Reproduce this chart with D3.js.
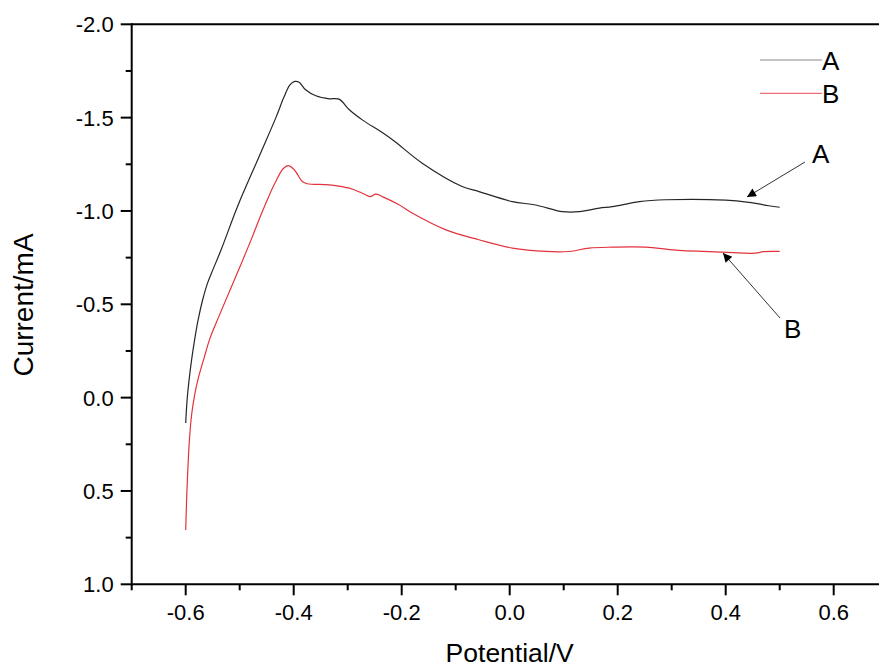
<!DOCTYPE html>
<html><head><meta charset="utf-8">
<script src="https://cdn.jsdelivr.net/npm/d3@7"></script>
<style>html,body{margin:0;padding:0;background:#fff;}svg{display:block;}</style>
</head><body>
<svg id="chart" width="879" height="668"></svg>
<script>
// Series A (black)
const potentialA = [-0.600,-0.5974,-0.5937,-0.5891,-0.5835,-0.5770,-0.5687,-0.5594,-0.5494,-0.5344,-0.504,-0.464,-0.433,-0.418,-0.407,-0.398,-0.390,-0.378,-0.359,-0.334,-0.316,-0.297,-0.273,-0.236,-0.214,-0.162,-0.088,-0.057,0.005,0.048,0.098,0.129,0.166,0.190,0.240,0.289,0.400,0.443,0.480,0.500];
const currentA   = [0.136,0.012,-0.095,-0.202,-0.309,-0.416,-0.523,-0.615,-0.687,-0.792,-1.024,-1.292,-1.500,-1.610,-1.675,-1.694,-1.690,-1.649,-1.617,-1.601,-1.599,-1.542,-1.488,-1.420,-1.375,-1.256,-1.131,-1.104,-1.050,-1.032,-0.996,-0.996,-1.015,-1.023,-1.050,-1.060,-1.058,-1.046,-1.028,-1.020];
// Series B (red)
const potentialB = [-0.600,-0.5983,-0.5961,-0.5931,-0.5891,-0.5835,-0.5761,-0.5659,-0.5548,-0.5381,-0.5178,-0.4974,-0.4789,-0.4622,-0.4474,-0.4335,-0.4196,-0.410,-0.399,-0.384,-0.375,-0.334,-0.297,-0.273,-0.258,-0.248,-0.236,-0.205,-0.180,-0.118,-0.057,0.005,0.067,0.110,0.147,0.190,0.252,0.308,0.394,0.455,0.470,0.500];
const currentB   = [0.709,0.548,0.387,0.227,0.093,-0.014,-0.111,-0.213,-0.320,-0.438,-0.577,-0.716,-0.845,-0.968,-1.070,-1.156,-1.226,-1.243,-1.221,-1.158,-1.146,-1.140,-1.122,-1.095,-1.077,-1.090,-1.077,-1.033,-0.988,-0.899,-0.846,-0.801,-0.783,-0.783,-0.801,-0.806,-0.806,-0.790,-0.779,-0.774,-0.782,-0.783];

const xMajor = [-0.6,-0.4,-0.2,0.0,0.2,0.4,0.6];
const xMinor = [-0.7,-0.5,-0.3,-0.1,0.1,0.3,0.5];
const yMajor = [-2.0,-1.5,-1.0,-0.5,0.0,0.5,1.0];
const yMinor = [-1.75,-1.25,-0.75,-0.25,0.25,0.75];
const seriesNames = ["A","B"];
const seriesColors = ["#262626","#e3323c"];

const svg = d3.select("#chart");
const font = "Arial, 'Liberation Sans', sans-serif";
const x = d3.scaleLinear().domain([-0.7,0.7]).range([131.7,887.7]);
const y = d3.scaleLinear().domain([-2,1]).range([24.3,584.3]);

// axes
const g = svg.append("g");
g.append("line").attr("x1",x(-0.7)).attr("x2",879).attr("y1",y(-2)).attr("y2",y(-2)).attr("stroke","#000").attr("stroke-width",2);
g.append("line").attr("x1",x(-0.7)).attr("x2",879).attr("y1",y(1)).attr("y2",y(1)).attr("stroke","#000").attr("stroke-width",2);
g.append("line").attr("x1",x(-0.7)).attr("x2",x(-0.7)).attr("y1",y(-2)-1).attr("y2",y(1)+1).attr("stroke","#000").attr("stroke-width",2);

// x ticks
g.selectAll(".xM").data(xMajor).enter().append("line")
  .attr("x1",d=>x(d)).attr("x2",d=>x(d)).attr("y1",y(1)).attr("y2",y(1)+11).attr("stroke","#000").attr("stroke-width",2);
g.selectAll(".xm").data(xMinor).enter().append("line")
  .attr("x1",d=>x(d)).attr("x2",d=>x(d)).attr("y1",y(1)).attr("y2",y(1)+6).attr("stroke","#000").attr("stroke-width",2);
g.selectAll(".xl").data(xMajor).enter().append("text")
  .attr("x",d=>x(d)).attr("y",y(1)+36).attr("text-anchor","middle")
  .attr("font-family",font).attr("font-size",22).text(d=>d.toFixed(1));
// y ticks
g.selectAll(".yM").data(yMajor).enter().append("line")
  .attr("x1",x(-0.7)-11).attr("x2",x(-0.7)).attr("y1",d=>y(d)).attr("y2",d=>y(d)).attr("stroke","#000").attr("stroke-width",2);
g.selectAll(".ym").data(yMinor).enter().append("line")
  .attr("x1",x(-0.7)-6).attr("x2",x(-0.7)).attr("y1",d=>y(d)).attr("y2",d=>y(d)).attr("stroke","#000").attr("stroke-width",2);
g.selectAll(".yl").data(yMajor).enter().append("text")
  .attr("x",x(-0.7)-18).attr("y",d=>y(d)+8).attr("text-anchor","end")
  .attr("font-family",font).attr("font-size",22).text(d=>d.toFixed(1));

// axis titles
svg.append("text").attr("x",x(0)).attr("y",662).attr("text-anchor","middle")
  .attr("font-family",font).attr("font-size",26.5).text("Potential/V");
svg.append("text").attr("transform","translate(33,305) rotate(-90)").attr("text-anchor","middle")
  .attr("font-family",font).attr("font-size",28).text("Current/mA");

// curves
const line = d3.line().x(d=>x(d[0])).y(d=>y(d[1])).curve(d3.curveCatmullRom.alpha(0.5));
const dataA = potentialA.map((p,i)=>[p,currentA[i]]);
const dataB = potentialB.map((p,i)=>[p,currentB[i]]);
svg.append("path").datum(dataA).attr("d",line).attr("fill","none").attr("stroke",seriesColors[0]).attr("stroke-width",1.2);
svg.append("path").datum(dataB).attr("d",line).attr("fill","none").attr("stroke",seriesColors[1]).attr("stroke-width",1.2);

// legend
const legY = [60,93.3];
const leg = svg.append("g");
seriesNames.forEach((n,i)=>{
  leg.append("line").attr("x1",760).attr("x2",822).attr("y1",legY[i]).attr("y2",legY[i])
    .attr("stroke",i===0?"#8a8a8a":"#f0707a").attr("stroke-width",1.2);
  leg.append("text").attr("x",822).attr("y",legY[i]+10).attr("font-family",font).attr("font-size",26).text(n);
});

// annotations with arrows
const defs = svg.append("defs");
defs.append("marker").attr("id","arr").attr("viewBox","0 0 10 10").attr("refX",10).attr("refY",5)
  .attr("markerWidth",15).attr("markerHeight",9).attr("markerUnits","userSpaceOnUse").attr("orient","auto")
  .append("path").attr("d","M0,0 L10,5 L0,10 Z").attr("fill","#000");
svg.append("line").attr("x1",805).attr("y1",162).attr("x2",747).attr("y2",197)
  .attr("stroke","#333").attr("stroke-width",1).attr("marker-end","url(#arr)");
svg.append("text").attr("x",812).attr("y",163).attr("font-family",font).attr("font-size",26).text("A");
svg.append("line").attr("x1",780).attr("y1",318).attr("x2",723).attr("y2",253)
  .attr("stroke","#333").attr("stroke-width",1).attr("marker-end","url(#arr)");
svg.append("text").attr("x",784).attr("y",338).attr("font-family",font).attr("font-size",26).text("B");
</script>
</body></html>
